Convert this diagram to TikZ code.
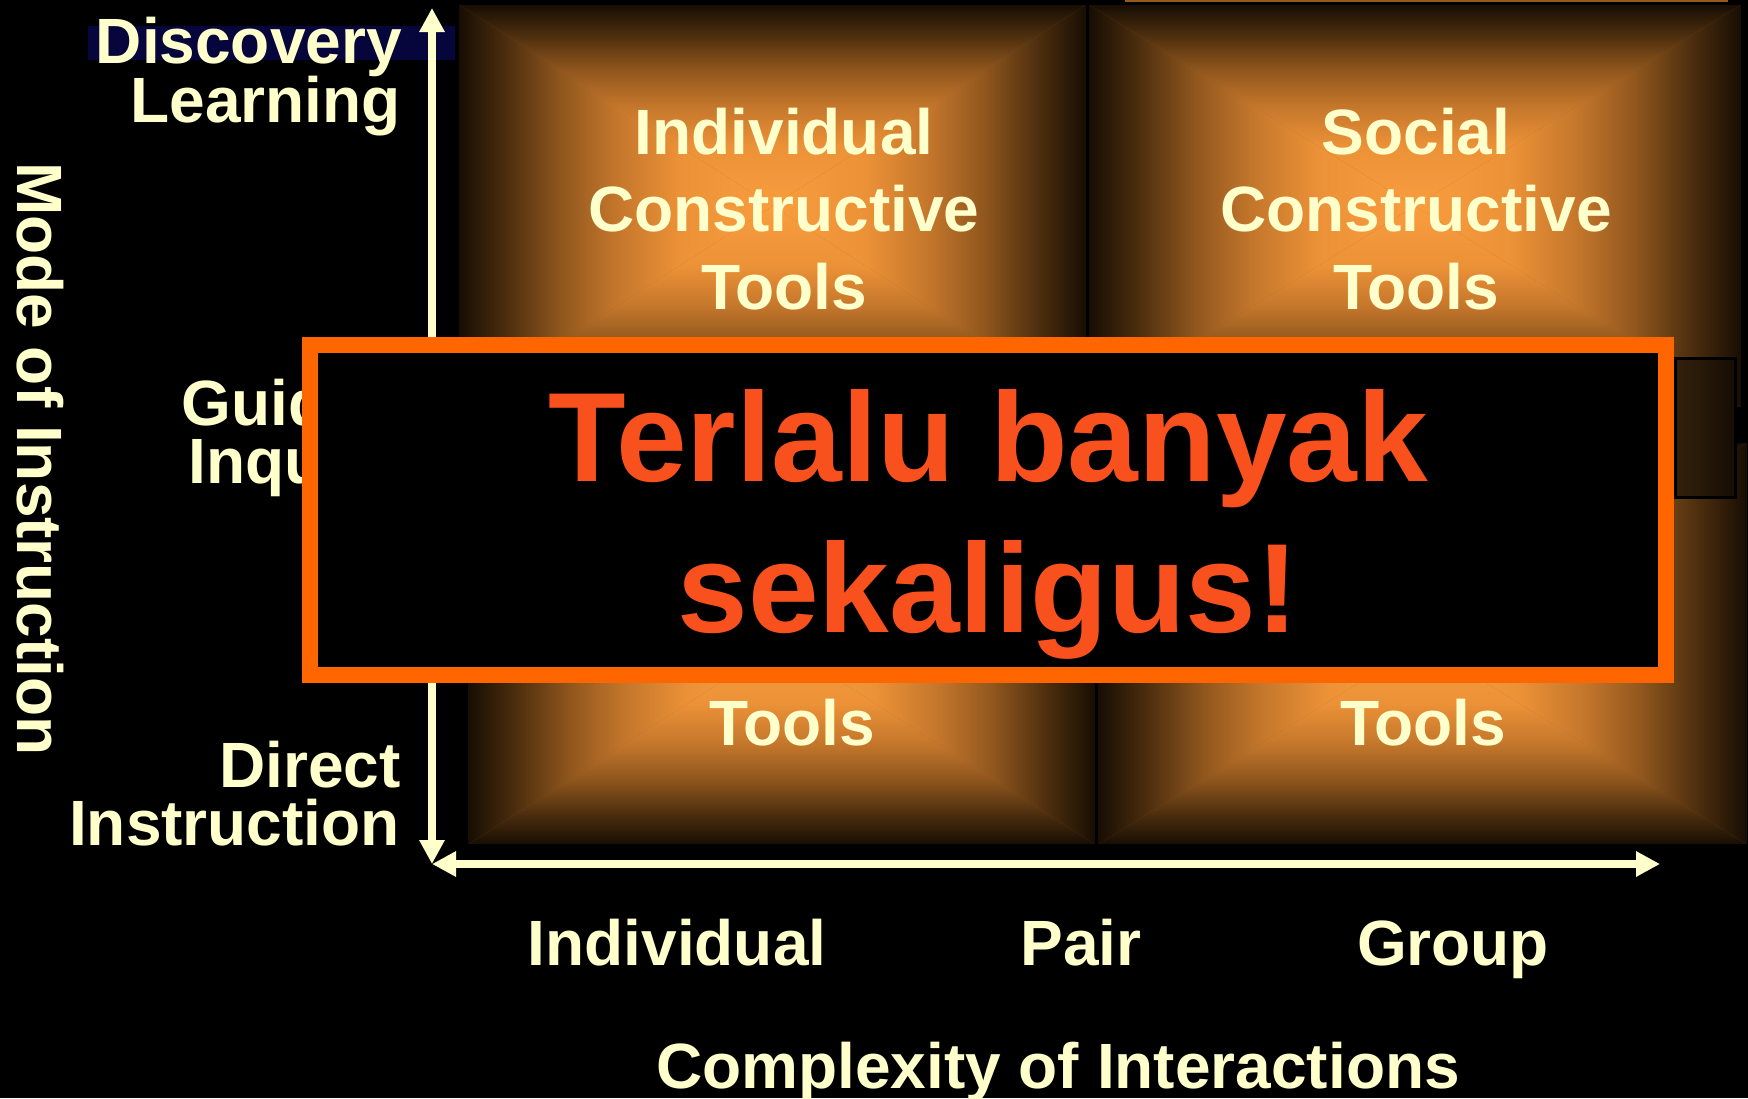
\documentclass[tikz,border=0pt]{standalone}
\usepackage{fontspec}
\setmainfont{Liberation Sans}
\usetikzlibrary{arrows.meta}
\definecolor{cream}{RGB}{255,255,204}
\definecolor{frameor}{RGB}{255,102,0}
\definecolor{alert}{RGB}{248,81,30}
\definecolor{navyband}{RGB}{6,5,60}
\definecolor{g0}{RGB}{22,13,3}
\definecolor{g1}{RGB}{75,45,14}
\definecolor{g2}{RGB}{145,87,30}
\definecolor{g3}{RGB}{195,118,43}
\definecolor{g4}{RGB}{235,145,55}
\definecolor{g5}{RGB}{249,157,62}
\definecolor{gmid}{RGB}{140,84,28}
\definecolor{darkL}{RGB}{52,33,12}
\definecolor{darkR}{RGB}{22,13,4}
\definecolor{topline}{RGB}{150,90,30}
\pgfdeclareverticalshading{gtop}{100bp}{color(0bp)=(g5); color(25bp)=(g5); color(40bp)=(g4); color(50bp)=(g3); color(58.5bp)=(g2); color(67.5bp)=(g1); color(75bp)=(g0); color(100bp)=(g0)}
\pgfdeclareverticalshading{gbot}{100bp}{color(0bp)=(g0); color(25bp)=(g0); color(32.5bp)=(g1); color(41.5bp)=(g2); color(50bp)=(g3); color(60bp)=(g4); color(75bp)=(g5); color(100bp)=(g5)}
\pgfdeclarehorizontalshading{gleft}{100bp}{color(0bp)=(g0); color(25bp)=(g0); color(32.5bp)=(g1); color(41.5bp)=(g2); color(50bp)=(g3); color(60bp)=(g4); color(75bp)=(g5); color(100bp)=(g5)}
\pgfdeclarehorizontalshading{gright}{100bp}{color(0bp)=(g5); color(25bp)=(g5); color(40bp)=(g4); color(50bp)=(g3); color(58.5bp)=(g2); color(67.5bp)=(g1); color(75bp)=(g0); color(100bp)=(g0)}
\newcommand{\gradbox}[4]{%
  \pgfmathsetmacro\gcx{(#1+#3)/2}%
  \pgfmathsetmacro\gcy{(#2+#4)/2}%
  \fill[gmid] (#1,#2) rectangle (#3,#4);
  \shade[shading=gtop] (#1,#2) -- (#3,#2) -- (\gcx,\gcy) -- cycle;
  \shade[shading=gbot] (#1,#4) -- (#3,#4) -- (\gcx,\gcy) -- cycle;
  \shade[shading=gleft] (#1,#2) -- (#1,#4) -- (\gcx,\gcy) -- cycle;
  \shade[shading=gright] (#3,#2) -- (#3,#4) -- (\gcx,\gcy) -- cycle;
  \draw[black, line width=2] (#1,#2) rectangle (#3,#4);
}
\tikzset{
  lbl/.style={inner sep=0pt, text=cream, font=\bfseries\fontsize{64}{70}\selectfont},
  lblR/.style={lbl, anchor=base east},
  lblC/.style={lbl, anchor=base},
  alerttxt/.style={inner sep=0pt, anchor=base, text=alert, font=\bfseries\fontsize{127}{150}\selectfont},
  axisarrow/.style={cream, line width=8, {Triangle[length=24pt,width=24pt]}-{Triangle[length=24pt,width=24pt]}},
}
\begin{document}
\begin{tikzpicture}[x=1pt, y=-1pt]
\useasboundingbox (0,0) rectangle (1748,1098);
\fill[black] (0,0) rectangle (1748,1098);
% navy band behind Discovery
\fill[navyband] (88,26) rectangle (455,60);
\draw[topline, line width=2] (1125,1) -- (1728,1);
% gradient boxes
\gradbox{458}{4}{1087}{408}
\gradbox{1088}{4}{1742}{408}
\gradbox{467}{442}{1096}{845}
\gradbox{1097}{442}{1748}{845}
% dark middle box
\shade[left color=darkL, right color=darkR] (1675,358) rectangle (1735,497);
\draw[black, line width=3] (1675,358) rectangle (1735,497);
% box texts
\node[lblC] (tl1) at (784,154) {Individual};
\node[lblC] (tl2) at (784,231) {Constructive};
\node[lblC] (tl3) at (784,309) {Tools};
\node[lblC] (tr1) at (1416,154) {Social};
\node[lblC] (tr2) at (1416,231) {Constructive};
\node[lblC] (tr3) at (1416,309) {Tools};
\node[lblC] (bl3) at (792,745) {Tools};
\node[lblC] (br3) at (1423,745) {Tools};
% axes
\coordinate (ytop) at (432,8);
\coordinate (origin) at (432,864);
\coordinate (xend) at (1660,864);
\draw[axisarrow] (origin) -- (ytop);
\draw[axisarrow] (origin) -- (xend);
% y labels
\node[lblR] (disc) at (402,63) {Discovery};
\node[lblR] (learn) at (401,122) {Learning};
\node[lblR] (guid) at (402,425) {Guided};
\node[lblR] (inq) at (402,483) {Inquiry};
\node[lblR] (dir) at (401,787) {Direct};
\node[lblR] (instr) at (400,845) {Instruction};
\node[lblC, rotate=-90] (mode) at (17,459) {Mode of Instruction};
% x labels
\node[lblC] (indiv) at (677,965) {Individual};
\node[lblC] (pair) at (1081,965) {Pair};
\node[lblC] (group) at (1453,965) {Group};
\node[lblC] (cplx) at (1058,1088) {Complexity of Interactions};
% overlay frame
\draw[frameor, line width=16, fill=black] (310,345) rectangle (1666,675);
\node[alerttxt] (al1) at (988,481) {Terlalu banyak};
\node[alerttxt] (al2) at (988,632) {sekaligus!};
\end{tikzpicture}
\end{document}
